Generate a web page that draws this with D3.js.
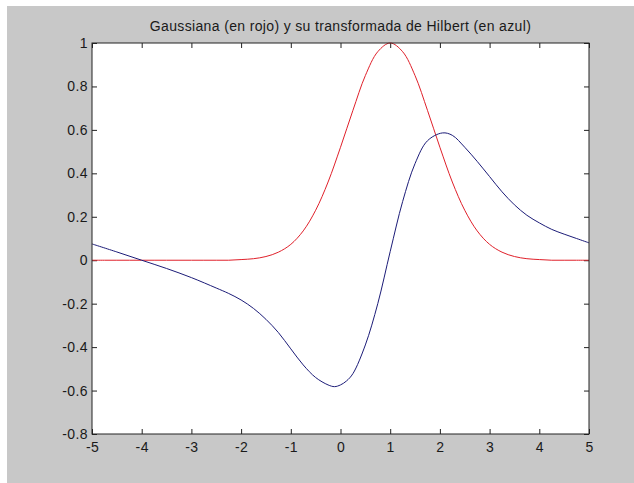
<!DOCTYPE html>
<html>
<head>
<meta charset="utf-8">
<script src="https://cdn.jsdelivr.net/npm/d3@7"></script>
<style>
  body { margin: 0; background: #fff; }
  text { font-family: Arial, "Liberation Sans", sans-serif; }
</style>
</head>
<body>
<svg id="svg" width="634" height="483"></svg>
<script>
const title = 'Gaussiana (en rojo) y su transformada de Hilbert (en azul)'

// red curve: gaussian, sampled every 0.25
const gaussX = d3.range(-5, 5.001, 0.25)
const gaussY = [
  0, 0, 0, 0, 0, 0, 0, 0, 0, 0, 0, 0,
  0.003, 0.007, 0.017, 0.037, 0.073, 0.135, 0.23, 0.36, 0.52, 0.69, 0.85, 0.96,
  1.0,
  0.96, 0.85, 0.69, 0.52, 0.36, 0.23, 0.135, 0.073, 0.037, 0.017, 0.007, 0.003,
  0, 0, 0, 0
]

// blue curve: hilbert transform
const hilbX = [-5, -4.5, -4, -3.5, -3, -2.5, -2.25, -2, -1.75, -1.5, -1.25, -1, -0.75, -0.5, -0.25, -0.12,
  0, 0.12, 0.25, 0.5, 0.75, 1, 1.25, 1.5, 1.75, 2.05, 2.25, 2.5, 2.75, 3, 3.25, 3.5, 3.75, 4, 4.25, 4.5, 4.75, 5]
const hilbY = [0.075, 0.038, 0.0, -0.038, -0.08, -0.128, -0.153, -0.183, -0.222, -0.272, -0.333, -0.408, -0.482, -0.54, -0.574, -0.582,
  -0.574, -0.556, -0.522, -0.39, -0.2, 0.04, 0.27, 0.445, 0.55, 0.586, 0.575, 0.52, 0.455, 0.385, 0.315, 0.255, 0.207, 0.172, 0.142, 0.12, 0.1, 0.08]

const xTicks = d3.range(-5, 6, 1)
const yTicks = [-0.8, -0.6, -0.4, -0.2, 0, 0.2, 0.4, 0.6, 0.8, 1]

const width = 634
const height = 483
const margin = { top: 43, right: 45, bottom: 49, left: 92 }

const svg = d3.select('#svg')

// grey figure background
svg.append('rect')
  .attr('x', 7).attr('y', 6)
  .attr('width', width - 7).attr('height', height - 6)
  .attr('fill', '#c8c8c8')

const xScale = d3.scaleLinear()
  .domain([-5, 5])
  .range([margin.left, width - margin.right])

const yScale = d3.scaleLinear()
  .domain([-0.8, 1])
  .range([height - margin.bottom, margin.top])

svg.append('rect')
  .attr('x', margin.left).attr('y', margin.top)
  .attr('width', xScale(5) - xScale(-5))
  .attr('height', yScale(-0.8) - yScale(1))
  .attr('fill', '#fff')

const fmt = d => String(+d.toFixed(1))

const xAxis = d3.axisBottom(xScale).tickValues(xTicks).tickFormat(fmt)
  .tickSizeInner(-5).tickSizeOuter(0).tickPadding(8)
const xAxisTop = d3.axisTop(xScale).tickValues(xTicks).tickFormat('')
  .tickSizeInner(-5).tickSizeOuter(0)
const yAxis = d3.axisLeft(yScale).tickValues(yTicks).tickFormat(fmt)
  .tickSizeInner(-5).tickSizeOuter(0).tickPadding(4)
const yAxisRight = d3.axisRight(yScale).tickValues(yTicks).tickFormat('')
  .tickSizeInner(-5).tickSizeOuter(0)

const axes = [
  [xAxis, `translate(0, ${height - margin.bottom})`],
  [xAxisTop, `translate(0, ${margin.top})`],
  [yAxis, `translate(${margin.left}, 0)`],
  [yAxisRight, `translate(${width - margin.right}, 0)`]
]
axes.forEach(([ax, tr]) => {
  const g = svg.append('g').attr('transform', tr).call(ax)
  g.select('.domain').remove()
  g.selectAll('line').attr('stroke', '#222')
  g.selectAll('text').attr('font-size', 14).attr('fill', '#1a1a1a')
    .attr('letter-spacing', 0.4)
    .attr('font-family', 'Arial, "Liberation Sans", sans-serif')
})

const lineGen = d3.line()
  .x(d => xScale(d[0]))
  .y(d => yScale(d[1]))
  .curve(d3.curveCatmullRom.alpha(0.5))

svg.append('path')
  .datum(gaussX.map((x, i) => [x, gaussY[i]]))
  .attr('d', lineGen)
  .attr('fill', 'none')
  .attr('stroke', '#e0202a')
  .attr('stroke-width', 1)

svg.append('path')
  .datum(hilbX.map((x, i) => [x, hilbY[i]]))
  .attr('d', lineGen)
  .attr('fill', 'none')
  .attr('stroke', '#1c1c78')
  .attr('stroke-width', 1)

// axes box
svg.append('rect')
  .attr('x', margin.left).attr('y', margin.top)
  .attr('width', xScale(5) - xScale(-5))
  .attr('height', yScale(-0.8) - yScale(1))
  .attr('fill', 'none')
  .attr('stroke', '#222')
  .attr('stroke-width', 1)

svg.append('text')
  .attr('x', (xScale(-5) + xScale(5)) / 2)
  .attr('y', 31)
  .attr('text-anchor', 'middle')
  .attr('font-size', 14)
  .attr('letter-spacing', 0.35)
  .attr('fill', '#1a1a1a')
  .text(title)
</script>
</body>
</html>
